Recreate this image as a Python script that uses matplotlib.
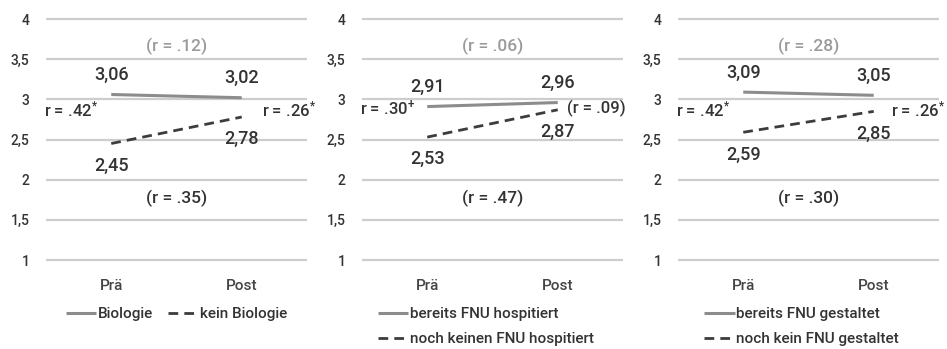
import matplotlib.pyplot as plt

# --- DATA ---
categories = ["Prä", "Post"]
y_ticks = [1, 1.5, 2, 2.5, 3, 3.5, 4]
y_tick_labels = ["1", "1,5", "2", "2,5", "3", "3,5", "4"]

solid_values = [[3.06, 3.02], [2.91, 2.96], [3.09, 3.05]]
dashed_values = [[2.45, 2.78], [2.53, 2.87], [2.59, 2.85]]

solid_names = ["Biologie", "bereits FNU hospitiert", "bereits FNU gestaltet"]
dashed_names = ["kein Biologie", "noch keinen FNU hospitiert", "noch kein FNU gestaltet"]

r_top = ["(r = .12)", "(r = .06)", "(r = .28)"]
r_bottom = ["(r = .35)", "(r = .47)", "(r = .30)"]
r_left = ["r = .42$^{*}$", "r = .30$^{+}$", "r = .42$^{*}$"]
r_right = ["r = .26$^{*}$", "(r = .09)", "r = .26$^{*}$"]

# --- STYLE ---
plt.rcParams['font.family'] = ['Roboto', 'DejaVu Sans']
plt.rcParams['font.weight'] = 'medium'
plt.rcParams['mathtext.fontset'] = 'custom'
plt.rcParams['mathtext.rm'] = 'Roboto'
plt.rcParams['mathtext.it'] = 'Roboto'
plt.rcParams['mathtext.bf'] = 'Roboto'
GRID = "#cdcdcd"
SOLID = "#8c8c8c"
DASHED = "#3c3c3c"
TEXT = "#333333"
FAINT = "#9a9a9a"

fig = plt.figure(figsize=(9.47, 3.49), dpi=100)
W, H = 947, 349
lefts = [46, 362, 678]
# right-hand r label: (x in axes fraction, alignment)
right_pos = [(1.035, "right"), (0.785, "left"), (1.025, "right")]
right_y = [0.623, 0.63, 0.623]
left_y = [0.623, 0.63, 0.623]
legend_cfg = [(0.5, "upper center", 2), (0.06, "upper left", 1), (0.10, "upper left", 1)]

for i in range(3):
    ax = fig.add_axes([lefts[i] / W, (H - 260) / H, 261 / W, 241 / H])
    ax.set_xlim(-0.5, 1.5)
    ax.set_ylim(1, 4)
    for s in ax.spines.values():
        s.set_visible(False)
    ax.hlines(y_ticks, -0.5, 1.5, color=GRID, lw=1.6, clip_on=False, zorder=0)

    x = range(len(categories))
    ax.plot(x, solid_values[i], color=SOLID, lw=2.2, label=solid_names[i],
            solid_capstyle="butt")
    ax.plot(x, dashed_values[i], color=DASHED, lw=2, linestyle=(0, (3.5, 2.2)),
            label=dashed_names[i])

    for xi, v in zip(x, solid_values[i]):
        ax.annotate(f"{v:.2f}".replace(".", ","), (xi, v), xytext=(0, 14),
                    textcoords="offset points", ha="center", va="center",
                    fontsize=13, color=TEXT)
    for xi, v in zip(x, dashed_values[i]):
        ax.annotate(f"{v:.2f}".replace(".", ","), (xi, v), xytext=(0, -16),
                    textcoords="offset points", ha="center", va="center",
                    fontsize=13, color=TEXT)

    ax.text(0.5, 0.887, r_top[i], transform=ax.transAxes, ha="center",
            va="center", fontsize=12.5, color=FAINT)
    ax.text(0.5, 0.257, r_bottom[i], transform=ax.transAxes, ha="center",
            va="center", fontsize=12.5, color=TEXT)
    ax.text(-0.006, left_y[i], r_left[i], transform=ax.transAxes, ha="left",
            va="center", fontsize=12, color=TEXT)
    rx, rha = right_pos[i]
    ax.text(rx, right_y[i], r_right[i], transform=ax.transAxes, ha=rha,
            va="center", fontsize=12, color=TEXT)

    ax.set_yticks(y_ticks)
    ax.set_yticklabels(y_tick_labels)
    ax.set_xticks(list(x))
    ax.set_xticklabels(categories)
    ax.tick_params(axis="y", length=0, pad=12, labelsize=10, labelcolor=TEXT)
    ax.tick_params(axis="x", length=0, pad=14, labelsize=11, labelcolor="#444444")

    lx, loc, ncol = legend_cfg[i]
    ax.legend(loc=loc, bbox_to_anchor=(lx, -0.197), ncol=ncol, frameon=False,
              fontsize=11, handlelength=2.0, handletextpad=0.1,
              columnspacing=1.0, labelspacing=0.7, labelcolor=TEXT,
              borderaxespad=0, borderpad=0)

fig.savefig("out.png", dpi=100)
